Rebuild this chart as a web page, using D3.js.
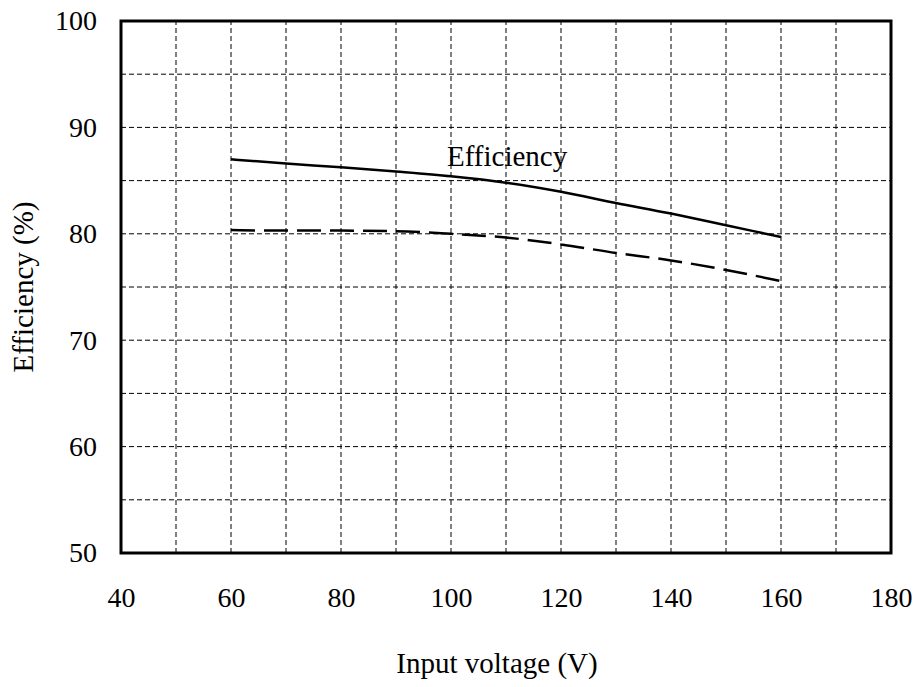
<!DOCTYPE html>
<html>
<head>
<meta charset="utf-8">
<script src="https://cdn.jsdelivr.net/npm/d3@7"></script>
<style>
body { margin: 0; background: #fff; }
text { font-family: "Liberation Serif", Tinos, "Times New Roman", Times, "DejaVu Serif", serif; fill: #000; }
</style>
</head>
<body>
<div id="chart"></div>
<script>
// data
var voltage = [60, 70, 80, 90, 100, 110, 120, 130, 140, 150, 160];
var efficiencySolid = [87.0, 86.6, 86.25, 85.85, 85.4, 84.8, 83.95, 82.9, 81.9, 80.8, 79.7];
var efficiencyDashed = [80.35, 80.3, 80.3, 80.25, 80.0, 79.65, 79.0, 78.2, 77.5, 76.6, 75.55];
var xTicks = [40, 60, 80, 100, 120, 140, 160, 180];
var yTicks = [50, 60, 70, 80, 90, 100];

var serif = '"Liberation Serif", Tinos, "Times New Roman", Times, "DejaVu Serif", serif';

var w = 916;
var h = 687;
var margin = { left: 121, right: 25, top: 21, bottom: 134 };

var svg = d3.select("#chart")
    .append("svg")
    .attr("width", w)
    .attr("height", h);

var xScale = d3.scaleLinear()
    .domain([40, 180])
    .range([margin.left, w - margin.right]);

var yScale = d3.scaleLinear()
    .domain([50, 100])
    .range([h - margin.bottom, margin.top]);

// grid, every 10 V and every 5 %
var xGrid = d3.range(50, 180, 10);
var yGrid = d3.range(55, 100, 5);

svg.append("g")
    .selectAll("line")
    .data(xGrid)
    .enter().append("line")
    .attr("x1", function (d) { return xScale(d); })
    .attr("x2", function (d) { return xScale(d); })
    .attr("y1", yScale(50))
    .attr("y2", yScale(100))
    .attr("stroke", "#000")
    .attr("stroke-width", 1)
    .attr("stroke-dasharray", "5,3");

svg.append("g")
    .selectAll("line")
    .data(yGrid)
    .enter().append("line")
    .attr("x1", xScale(40))
    .attr("x2", xScale(180))
    .attr("y1", function (d) { return yScale(d); })
    .attr("y2", function (d) { return yScale(d); })
    .attr("stroke", "#000")
    .attr("stroke-width", 1)
    .attr("stroke-dasharray", "5,3");

// frame
svg.append("rect")
    .attr("x", xScale(40))
    .attr("y", yScale(100))
    .attr("width", xScale(180) - xScale(40))
    .attr("height", yScale(50) - yScale(100))
    .attr("fill", "none")
    .attr("stroke", "#000")
    .attr("stroke-width", 3);

// axes (labels only, no tick marks)
var xAxis = d3.axisBottom(xScale)
    .tickValues(xTicks)
    .tickSize(0)
    .tickPadding(34);

var yAxis = d3.axisLeft(yScale)
    .tickValues(yTicks)
    .tickSize(0)
    .tickPadding(24);

var gx = svg.append("g")
    .attr("transform", "translate(0," + yScale(50) + ")")
    .call(xAxis);
var gy = svg.append("g")
    .attr("transform", "translate(" + xScale(40) + ",0)")
    .call(yAxis);

[gx, gy].forEach(function (g) {
    g.attr("font-family", serif).attr("font-size", 28);
    g.select(".domain").remove();
    g.selectAll("text")
        .style("font-family", serif)
        .style("font-size", "28px")
        .attr("fill", "#000");
});

// curves
var line = d3.line()
    .x(function (d) { return xScale(d[0]); })
    .y(function (d) { return yScale(d[1]); })
    .curve(d3.curveMonotoneX);

svg.append("path")
    .datum(d3.zip(voltage, efficiencySolid))
    .attr("d", line)
    .attr("fill", "none")
    .attr("stroke", "#000")
    .attr("stroke-width", 2.5);

svg.append("path")
    .datum(d3.zip(voltage, efficiencyDashed))
    .attr("d", line)
    .attr("fill", "none")
    .attr("stroke", "#000")
    .attr("stroke-width", 2.5)
    .attr("stroke-dasharray", "24,9");

// labels
svg.append("text")
    .attr("x", 447)
    .attr("y", 166)
    .style("font-size", "29px")
    .text("Efficiency");

svg.append("text")
    .attr("x", 497)
    .attr("y", 673)
    .attr("text-anchor", "middle")
    .style("font-size", "29px")
    .text("Input voltage (V)");

svg.append("text")
    .attr("transform", "translate(33," + yScale(75) + ") rotate(-90)")
    .attr("text-anchor", "middle")
    .style("font-size", "29px")
    .text("Efficiency (%)");
</script>
</body>
</html>
